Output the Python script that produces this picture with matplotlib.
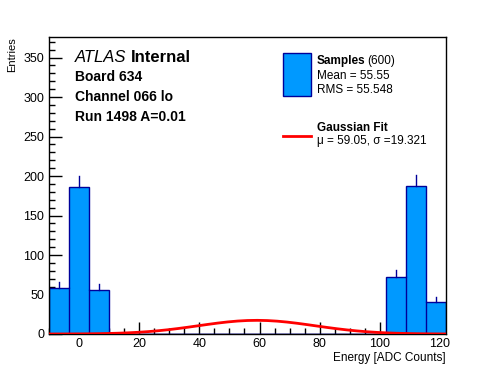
import numpy as np
import matplotlib
matplotlib.use("Agg")
import matplotlib.pyplot as plt
from matplotlib.ticker import MultipleLocator

plt.rcParams['font.family'] = ['Liberation Sans', 'DejaVu Sans']

# histogram: 20 bins from -10 to 122
edges = np.linspace(-10, 122, 21)
counts = [58, 186, 56, 0, 0, 0, 0, 0, 0, 0, 0, 0, 0, 0, 0, 0, 0, 72, 188, 40]

# gaussian fit
mu = 59.05
sigma = 19.321
amp = 17.3

fill_col = '#0099ff'
edge_col = '#000099'

fig = plt.figure(figsize=(4.96, 3.72), dpi=100)
ax = fig.add_axes([49/496, 38/372, 397/496, 297/372])

centers = 0.5*(edges[:-1] + edges[1:])
ax.hist(centers, bins=edges, weights=counts, histtype='stepfilled',
        facecolor=fill_col, edgecolor=edge_col, linewidth=1, zorder=2)
# separators between adjacent non-empty bins
for i in range(len(counts)-1):
    if counts[i] > 0 and counts[i+1] > 0:
        ax.plot([edges[i+1], edges[i+1]], [0, min(counts[i], counts[i+1])],
                color=edge_col, lw=1, zorder=2)
# error bars (upper half visible)
for c, n in zip(centers, counts):
    if n > 0:
        ax.plot([c, c], [n, n + np.sqrt(n)], color=edge_col, lw=1, zorder=2)

xs = np.linspace(-10, 122, 41)
ax.plot(xs, amp*np.exp(-0.5*((xs-mu)/sigma)**2), color='red', lw=2, zorder=3)

ax.set_xlim(-10, 122)
ax.set_ylim(0, 376)
ax.xaxis.set_major_locator(MultipleLocator(20))
ax.xaxis.set_minor_locator(MultipleLocator(5))
ax.yaxis.set_major_locator(MultipleLocator(50))
ax.yaxis.set_minor_locator(MultipleLocator(10))
ax.tick_params(which='both', direction='in', labelsize=9, width=1)
ax.tick_params(which='major', length=9)
ax.tick_params(which='minor', length=4.5)
ax.tick_params(axis='x', pad=3)
for s in ax.spines.values():
    s.set_linewidth(1)

fig.text(446/496, 1-358/372, 'Energy [ADC Counts]', ha='right', va='center', fontsize=8.5)
fig.text(12/496, 1-37/372, 'Entries', ha='center', va='top', rotation=90, fontsize=8)

# ATLAS label
atl = fig.text(75/496, 1-58/372, 'ATLAS', style='italic', fontsize=12, va='center')
fig.canvas.draw()
bb = atl.get_window_extent()
fig.text((bb.x1 + 4)/496, 1-58/372, 'Internal', weight='bold', fontsize=12, va='center')
fig.text(75/496, 1-77/372, 'Board 634', weight='bold', fontsize=10, va='center')
fig.text(75/496, 1-97/372, 'Channel 066 lo', weight='bold', fontsize=10, va='center')
fig.text(75/496, 1-117/372, 'Run 1498 A=0.01', weight='bold', fontsize=10, va='center')

# legend
fig.patches.append(plt.Rectangle((283/496, 1-96/372), 28/496, 43/372, transform=fig.transFigure,
                                 facecolor=fill_col, edgecolor=edge_col, lw=1))
fig.text(317/496, 1-61/372, 'Samples', weight='bold', fontsize=8.5, va='center')
fig.text(367/496, 1-61/372, '(600)', fontsize=8.5, va='center')
fig.text(317/496, 1-76/372, 'Mean = 55.55', fontsize=8.5, va='center')
fig.text(317/496, 1-90/372, 'RMS = 55.548', fontsize=8.5, va='center')
fig.lines.append(plt.Line2D([283/496, 311/496], [1-136/372, 1-136/372], transform=fig.transFigure,
                            color='red', lw=2))
fig.text(317/496, 1-128/372, 'Gaussian Fit', weight='bold', fontsize=8.5, va='center')
fig.text(317/496, 1-141/372, '\u03bc = 59.05, \u03c3 =19.321', fontsize=8.5, va='center')

fig.savefig('out.png', dpi=100)
